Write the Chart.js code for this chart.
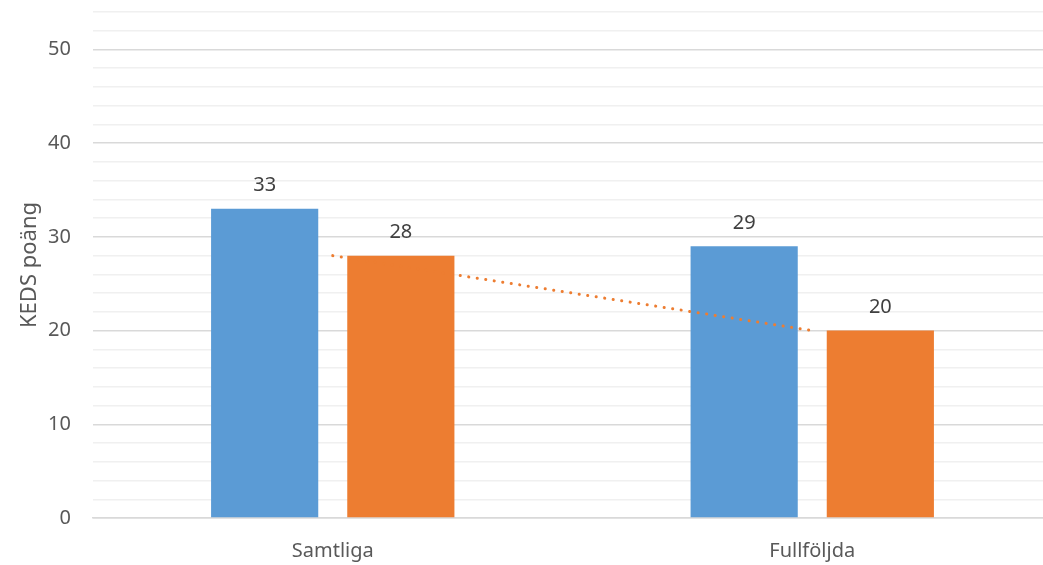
<!DOCTYPE html>
<html>
<head>
<meta charset="utf-8">
<title>KEDS poäng</title>
<script src="https://cdn.jsdelivr.net/npm/chart.js@4/dist/chart.umd.min.js"></script>
<style>
    html, body { margin: 0; padding: 0; background: #fff; overflow: hidden; }
    #wrap { position: relative; width: 1052px; height: 565px; }
</style>
</head>
<body>
<div id="wrap"><canvas id="kedsChart"></canvas></div>
<script>
var categories = ['Samtliga', 'Fullföljda'];
var seriesBlue = [33, 29];
var seriesOrange = [28, 20];
var trendValues = [28, 20];
var yTickLabels = [0, 10, 20, 30, 40, 50];

(function() {
    'use strict';

    var BLUE = '#5B9BD5';
    var ORANGE = '#ED7D31';
    var FONT = "'Noto Sans', sans-serif";

    // draws value labels above each bar
    var barValueLabels = {
        id: 'barValueLabels',
        afterDatasetsDraw: function(chart) {
            var ctx = chart.ctx;
            ctx.save();
            ctx.font = '20px ' + FONT;
            ctx.fillStyle = '#404040';
            ctx.textAlign = 'center';
            ctx.textBaseline = 'middle';
            chart.data.datasets.forEach(function(ds, i) {
                if (ds.type === 'line') {
                    return;
                }
                var meta = chart.getDatasetMeta(i);
                meta.data.forEach(function(bar, j) {
                    ctx.fillText(String(ds.data[j]), bar.x, bar.y - 23);
                });
            });
            ctx.restore();
        }
    };

    var ctx = document.getElementById('kedsChart').getContext('2d');

    new Chart(ctx, {
        type: 'bar',
        data: {
            labels: categories,
            datasets: [
                {
                    label: 'Serie 1',
                    data: seriesBlue,
                    backgroundColor: BLUE,
                    order: 2,
                    barPercentage: 0.787,
                    categoryPercentage: 0.568
                },
                {
                    label: 'Serie 2',
                    data: seriesOrange,
                    backgroundColor: ORANGE,
                    order: 2,
                    barPercentage: 0.787,
                    categoryPercentage: 0.568
                },
                {
                    type: 'line',
                    label: 'Linjär (Serie 2)',
                    data: trendValues,
                    borderColor: ORANGE,
                    borderWidth: 3,
                    borderDash: [0.1, 8.5],
                    borderCapStyle: 'round',
                    pointRadius: 0,
                    fill: false,
                    order: 1
                }
            ]
        },
        options: {
            responsive: true,
            maintainAspectRatio: false,
            animation: false,
            layout: {
                padding: { top: 12, right: 0, left: 0, bottom: 0 }
            },
            plugins: {
                legend: { display: false },
                tooltip: { enabled: false }
            },
            scales: {
                x: {
                    grid: { display: false },
                    border: { color: '#d9d9d9', width: 1.5 },
                    ticks: {
                        color: '#595959',
                        font: { family: FONT, size: 20 },
                        padding: 13
                    },
                    afterFit: function(scale) {
                        scale.height = 47;
                        scale.paddingLeft = 0;
                        scale.paddingRight = 0;
                    }
                },
                y: {
                    min: 0,
                    max: 54,
                    border: { display: false },
                    grid: {
                        drawTicks: false,
                        color: function(c) {
                            return c.tick && c.tick.value % 10 === 0 ? '#d9d9d9' : '#f0f0f0';
                        },
                        lineWidth: 1.5
                    },
                    ticks: {
                        stepSize: 2,
                        autoSkip: false,
                        color: '#595959',
                        padding: 22,
                        font: { family: FONT, size: 20 },
                        callback: function(value) {
                            return yTickLabels.indexOf(value) >= 0 ? String(value) : '';
                        }
                    },
                    title: {
                        display: true,
                        text: 'KEDS poäng',
                        color: '#595959',
                        font: { family: FONT, size: 22 },
                        padding: { top: 17, bottom: 0 }
                    },
                    afterFit: function(scale) {
                        scale.width = 93;
                        scale.paddingTop = 0;
                        scale.paddingBottom = 0;
                    }
                }
            }
        },
        plugins: [barValueLabels]
    });
})();
</script>
</body>
</html>
